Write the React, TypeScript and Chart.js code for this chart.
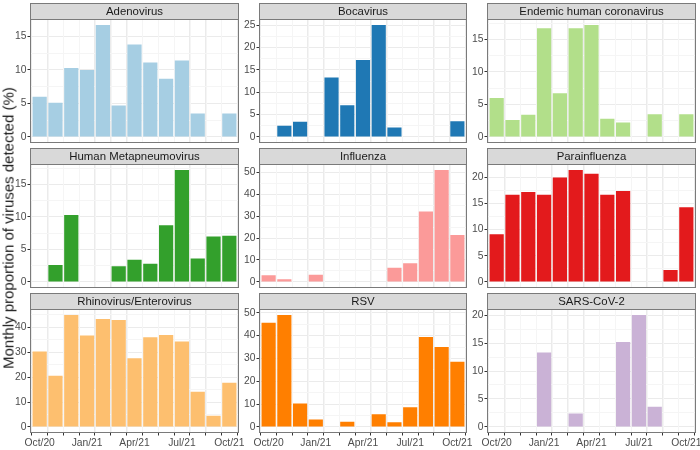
import React, { useEffect, useRef } from "react";
import { Chart, registerables } from "chart.js";

Chart.register(...registerables);

// ---- Data ----
const months = ["Oct/20", "Nov/20", "Dec/20", "Jan/21", "Feb/21", "Mar/21", "Apr/21", "May/21", "Jun/21", "Jul/21", "Aug/21", "Sep/21", "Oct/21"];
const xTickLabels = ["Oct/20", "", "", "Jan/21", "", "", "Apr/21", "", "", "Jul/21", "", "", "Oct/21"];

const panelNames = [
  "Adenovirus",
  "Bocavirus",
  "Endemic human coronavirus",
  "Human Metapneumovirus",
  "Influenza",
  "Parainfluenza",
  "Rhinovirus/Enterovirus",
  "RSV",
  "SARS-CoV-2",
];

const panelColors = ["#A6CEE3", "#1F78B4", "#B2DF8A", "#33A02C", "#FB9A99", "#E31A1C", "#FDBF6F", "#FF7F00", "#CAB2D6"];

const adenovirus = [6.0, 5.1, 10.3, 10.0, 16.7, 4.7, 13.8, 11.1, 8.7, 11.4, 3.5, 0, 3.5];
const bocavirus = [0, 2.5, 3.4, 0, 13.3, 7.1, 17.2, 25.0, 2.1, 0, 0, 0, 3.5];
const endemicCoronavirus = [6.0, 2.6, 3.4, 16.7, 6.7, 16.7, 17.2, 2.8, 2.2, 0, 3.5, 0, 3.5];
const metapneumovirus = [0, 2.6, 10.3, 0, 0, 2.4, 3.4, 2.8, 8.7, 17.2, 3.6, 7.0, 7.1];
const influenza = [3.0, 1.2, 0, 3.3, 0, 0, 0, 0, 6.5, 8.5, 32.1, 51.0, 21.4];
const parainfluenza = [9.1, 16.7, 17.2, 16.7, 20.0, 21.4, 20.7, 16.7, 17.4, 0, 0, 2.3, 14.3];
const rhinovirus = [30.3, 20.5, 44.9, 36.7, 43.3, 42.9, 27.6, 36.0, 36.9, 34.3, 14.1, 4.5, 17.7];
const rsv = [45.6, 49.0, 10.3, 3.2, 0, 2.3, 0, 5.5, 2.0, 8.6, 39.4, 35.0, 28.6];
const sarsCov2 = [0, 0, 0, 13.3, 0, 2.4, 0, 0, 15.2, 20.0, 3.6, 0, 0];

const panelValues = [adenovirus, bocavirus, endemicCoronavirus, metapneumovirus, influenza, parainfluenza, rhinovirus, rsv, sarsCov2];
const yTickSteps = [5, 5, 5, 5, 10, 5, 10, 10, 5];

// ---- Layout ----
const W = 700;
const H = 450;
const COL_L = [30.5, 259.5, 487.5];
const COL_R = [238.5, 466.5, 695.5];
const STRIP_TOP = [3.5, 148.5, 293.5];
const STRIP_H = 16;
const PLOT_B = [142.5, 287.5, 432.5];
const YW = 28;
const XH = 16;
const FONT = '"Liberation Sans", Arial, Helvetica, sans-serif';
const BORDER = "#7a7a7a";

function isMajor(v: number, step: number) {
  const r = v / step;
  return Math.abs(r - Math.round(r)) < 1e-6;
}

function Panel({ idx }: { idx: number }) {
  const ref = useRef<HTMLCanvasElement>(null);
  useEffect(() => {
    if (!ref.current) return;
    const row = Math.floor(idx / 3);
    const col = idx % 3;
    const vals = panelValues[idx];
    const vmax = Math.max(...vals);
    const step = yTickSteps[idx];
    const isBottom = row === 2;

    const panelPlugin = {
      id: "panel" + idx,
      beforeDatasetsDraw(chart: any) {
        // minor vertical grid lines at half months
        const { ctx, chartArea: a } = chart;
        const xs = chart.scales.x;
        ctx.save();
        ctx.strokeStyle = "#f5f5f5";
        ctx.lineWidth = 1;
        for (let i = 0; i < months.length - 1; i++) {
          const px = Math.round(xs.getPixelForValue(i + 0.5)) + 0.5;
          ctx.beginPath();
          ctx.moveTo(px, a.top);
          ctx.lineTo(px, a.bottom);
          ctx.stroke();
        }
        ctx.restore();
      },
      afterDraw(chart: any) {
        const { ctx, chartArea: a } = chart;
        ctx.save();
        ctx.strokeStyle = BORDER;
        ctx.lineWidth = 1;
        ctx.strokeRect(a.left, a.top, a.right - a.left, a.bottom - a.top);
        ctx.fillStyle = "#d9d9d9";
        ctx.fillRect(a.left, a.top - STRIP_H, a.right - a.left, STRIP_H);
        ctx.strokeRect(a.left, a.top - STRIP_H, a.right - a.left, STRIP_H);
        ctx.fillStyle = "#1a1a1a";
        ctx.font = `11.4px ${FONT}`;
        ctx.textAlign = "center";
        ctx.textBaseline = "middle";
        ctx.fillText(panelNames[idx], (a.left + a.right) / 2, a.top - STRIP_H / 2 + 0.5);
        ctx.restore();
      },
    };

    const chart = new Chart(ref.current, {
      type: "bar",
      data: {
        labels: months,
        datasets: [
          {
            data: vals.map((v, i) => ({ x: i, y: v })) as any,
            backgroundColor: panelColors[idx],
            borderWidth: 0,
            barPercentage: 0.9,
            categoryPercentage: 1,
          },
        ],
      },
      options: {
        animation: false,
        responsive: false,
        events: [],
        layout: {
          autoPadding: false,
          padding: {
            left: COL_L[col] - YW,
            right: W - COL_R[col],
            top: STRIP_TOP[row] + STRIP_H,
            bottom: H - PLOT_B[row] - (isBottom ? XH : 0),
          },
        },
        plugins: { legend: { display: false }, tooltip: { enabled: false } },
        scales: {
          x: {
            type: "linear",
            min: -0.58,
            max: 12.58,
            offset: false,
            afterBuildTicks: (s: any) => {
              s.ticks = months.map((_, i) => ({ value: i }));
            },
            afterFit: (s: any) => {
              s.height = isBottom ? XH : 0;
              s.paddingLeft = 0;
              s.paddingRight = 0;
            },
            grid: {
              color: "#ebebeb",
              lineWidth: 1,
              drawTicks: isBottom,
              tickLength: 3,
              tickColor: "#333333",
            },
            border: { display: false },
            ticks: {
              display: isBottom,
              autoSkip: false,
              maxRotation: 0,
              minRotation: 0,
              padding: 1,
              color: "#4d4d4d",
              font: { family: FONT, size: 10.3 },
              callback: (v: any) => xTickLabels[Math.round(Number(v))] ?? "",
            },
          },
          y: {
            min: -0.05 * vmax,
            max: 1.05 * vmax,
            afterBuildTicks: (s: any) => {
              const t = [];
              for (let k = 0; (k * step) / 2 <= s.max + 1e-9; k++) t.push({ value: (k * step) / 2 });
              s.ticks = t;
            },
            afterFit: (s: any) => {
              s.width = YW;
              s.paddingTop = 0;
              s.paddingBottom = 0;
            },
            grid: {
              color: (c: any) => (c.tick && isMajor(c.tick.value, step) ? "#ebebeb" : "#f5f5f5"),
              lineWidth: 1,
              tickLength: 3,
              tickColor: (c: any) => (c.tick && isMajor(c.tick.value, step) ? "#333333" : "rgba(0,0,0,0)"),
            },
            border: { display: false },
            ticks: {
              autoSkip: false,
              padding: 1,
              color: "#4d4d4d",
              font: { family: FONT, size: 10.3 },
              callback: (v: any) => (isMajor(Number(v), step) ? String(Math.round(Number(v))) : ""),
            },
          },
        },
      } as any,
      plugins: [panelPlugin],
    });
    return () => chart.destroy();
  }, [idx]);
  return <canvas ref={ref} width={W} height={H} style={{ position: "absolute", left: 0, top: 0 }} />;
}

export default function App() {
  return (
    <div style={{ position: "fixed", left: 0, top: 0, width: W, height: H, background: "#ffffff", overflow: "hidden" }}>
      {panelNames.map((_, i) => (
        <Panel key={i} idx={i} />
      ))}
      <div
        style={{
          position: "absolute",
          left: 8,
          top: 228,
          transform: "translate(-50%, -50%) rotate(-90deg)",
          whiteSpace: "nowrap",
          fontFamily: FONT,
          fontSize: 15,
          color: "#1a1a1a",
        }}
      >
        Monthly proportion of viruses detected (%)
      </div>
    </div>
  );
}
